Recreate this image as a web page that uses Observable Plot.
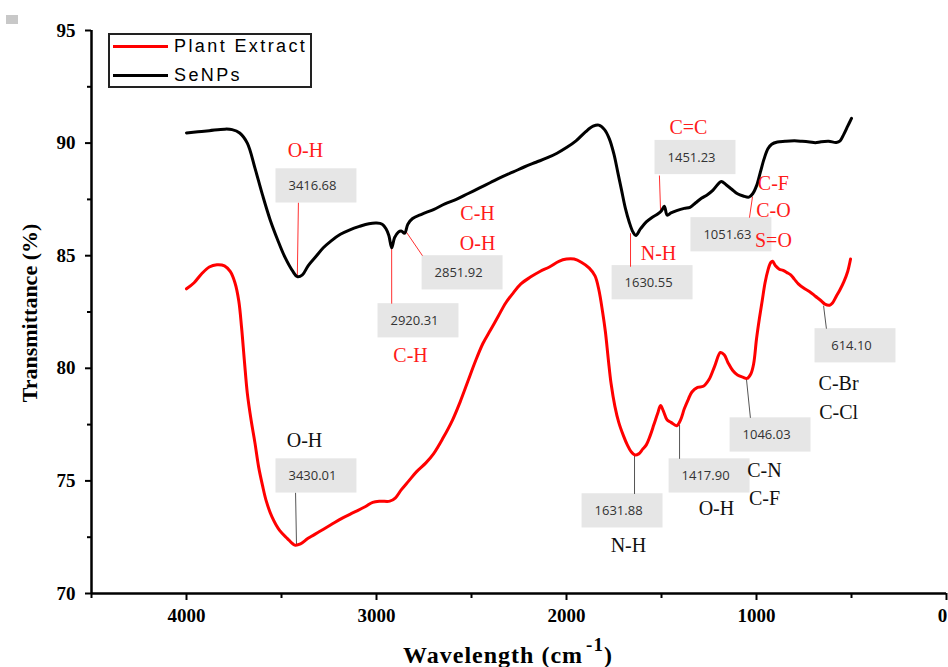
<!DOCTYPE html>
<html>
<head>
<meta charset="utf-8">
<script src="https://cdn.jsdelivr.net/npm/d3@7"></script>
<script src="https://cdn.jsdelivr.net/npm/@observablehq/plot@0.6"></script>
<style>
  html, body { margin: 0; padding: 0; background: #fff; }
  #wrap { position: relative; width: 948px; height: 667px; overflow: hidden; }
  #chart svg { display: block; }
  .legend { position: absolute; left: 108px; top: 33px; width: 200px; height: 51px; border: 2px solid #222; background: #fff; font-family: "Liberation Sans", Arial, sans-serif; font-size: 18px; letter-spacing: 2.4px; }
  .legend .row { position: absolute; left: 3px; height: 20px; display: flex; align-items: center; white-space: nowrap; }
  .legend .sw { width: 55px; height: 3px; margin-right: 6px; }
  .ytitle { position: absolute; left: 30px; top: 313px; transform: translate(-50%, -50%) rotate(-90deg); font-family: "Liberation Serif", serif; font-weight: bold; font-size: 22px; white-space: nowrap; }
  .xtitle { position: absolute; left: 508px; top: 653px; transform: translate(-50%, -50%); font-family: "Liberation Serif", serif; font-weight: bold; font-size: 24px; white-space: nowrap; letter-spacing: 1px; }
  .xtitle sup { font-size: 19px; position: relative; top: -3px; margin-left: 3px; }
  .corner { position: absolute; left: 6px; top: 15px; width: 12px; height: 9px; background: #c8c8c8; }
</style>
</head>
<body>
<div id="wrap">
  <div id="chart"></div>
  <div class="corner"></div>
  <div class="legend">
    <div class="row" style="top:1px"><div class="sw" style="background:#ff0000"></div><span>Plant Extract</span></div>
    <div class="row" style="top:30px"><div class="sw" style="background:#000"></div><span>SeNPs</span></div>
  </div>
  <div class="ytitle">Transmittance (%)</div>
  <div class="xtitle">Wavelength (cm<sup>-1</sup>)</div>
</div>
<script>
// ---- Data: SeNPs spectrum (wavenumber, transmittance) ----
const seWn = [4000,3940,3880,3800,3760,3720,3680,3640,3600,3560,3520,3480,3440,3417,3390,3360,3320,3280,3240,3190,3140,3090,3040,3000,2970,2950,2935,2920,2905,2885,2870,2852,2835,2810,2760,2700,2640,2580,2520,2460,2400,2340,2280,2220,2160,2100,2050,2000,1950,1900,1860,1830,1800,1775,1750,1730,1710,1690,1670,1650,1635,1610,1580,1550,1520,1500,1485,1470,1450,1420,1380,1350,1320,1290,1260,1230,1200,1185,1160,1130,1100,1070,1040,1020,1000,980,960,940,920,890,850,800,760,720,690,660,620,580,560,540,520,500];
const seT  = [90.45,90.5,90.55,90.62,90.6,90.45,90.0,88.9,87.7,86.6,85.7,84.9,84.3,84.07,84.15,84.55,84.95,85.35,85.65,85.95,86.15,86.3,86.42,86.45,86.4,86.2,85.9,85.35,85.8,86.05,86.1,86.0,86.4,86.65,86.85,87.05,87.3,87.5,87.75,88.0,88.25,88.5,88.72,88.95,89.15,89.35,89.55,89.8,90.1,90.5,90.75,90.8,90.6,90.2,89.5,88.7,87.9,87.1,86.5,86.05,85.9,86.2,86.5,86.7,86.85,87.0,87.2,86.8,86.9,87.0,87.1,87.15,87.35,87.55,87.7,87.9,88.2,88.3,88.15,87.95,87.75,87.65,87.6,87.75,88.1,88.7,89.3,89.75,89.95,90.05,90.08,90.1,90.08,90.05,90.02,90.06,90.08,90.03,90.1,90.4,90.75,91.1];

// ---- Data: Plant Extract spectrum ----
const plWn = [4000,3960,3920,3880,3840,3800,3770,3745,3725,3710,3695,3680,3660,3640,3620,3600,3580,3550,3510,3470,3430,3400,3360,3300,3240,3180,3120,3060,3020,2980,2930,2900,2870,2830,2790,2740,2700,2650,2600,2560,2520,2480,2440,2400,2360,2320,2280,2240,2190,2140,2090,2040,2000,1960,1920,1880,1850,1830,1810,1795,1780,1765,1745,1725,1700,1680,1660,1640,1620,1600,1580,1560,1540,1520,1505,1490,1470,1450,1420,1400,1380,1360,1340,1310,1280,1250,1220,1190,1170,1150,1125,1100,1070,1050,1030,1015,1000,985,970,955,940,925,915,900,880,860,840,820,800,780,750,720,690,660,640,615,600,580,560,540,520,505];
const plT  = [83.53,83.8,84.2,84.5,84.6,84.55,84.3,83.8,83.0,81.8,80.3,78.9,77.7,76.7,75.6,74.8,74.1,73.4,72.8,72.45,72.15,72.2,72.45,72.75,73.05,73.35,73.6,73.85,74.05,74.1,74.1,74.25,74.6,75.0,75.4,75.8,76.2,76.9,77.7,78.5,79.4,80.3,81.1,81.7,82.3,82.9,83.35,83.75,84.05,84.3,84.5,84.75,84.85,84.85,84.7,84.45,84.1,83.5,82.5,81.6,80.4,79.3,78.3,77.6,77.0,76.6,76.3,76.15,76.2,76.4,76.6,77.0,77.5,78.0,78.35,78.1,77.7,77.6,77.45,77.7,78.2,78.6,78.95,79.15,79.2,79.5,80.1,80.7,80.6,80.25,79.9,79.7,79.6,79.55,79.75,80.2,81.3,82.2,83.0,83.8,84.35,84.7,84.75,84.55,84.4,84.35,84.25,84.15,83.95,83.75,83.55,83.4,83.2,83.0,82.85,82.8,82.9,83.2,83.5,83.85,84.3,84.85];

// ---- Axis ticks ----
const xTicks = [4000, 3000, 2000, 1000, 0];
const xMinor = [4500, 3500, 2500, 1500, 500];
const yTicks = [70, 75, 80, 85, 90, 95];
const yMinor = [72.5, 77.5, 82.5, 87.5, 92.5];

// ---- Peak annotations (peak tip, leader end, box centre, in data units) ----
const seAnn = [
  {label: "3416.68", tipX: 3416.68, tipY: 84.1, endX: 3411, endY: 87.35, boxX: 3316, boxY: 88.1},
  {label: "2920.31", tipX: 2920.31, tipY: 85.35, endX: 2920, endY: 82.87, boxX: 2779, boxY: 82.11},
  {label: "2851.92", tipX: 2847, tipY: 86.1, endX: 2758, endY: 85.0, boxX: 2547, boxY: 84.24},
  {label: "1451.23", tipX: 1505, tipY: 87.0, endX: 1511, endY: 88.56, boxX: 1321, boxY: 89.36},
  {label: "1630.55", tipX: 1663, tipY: 86.0, endX: 1663, endY: 84.51, boxX: 1547, boxY: 83.8},
  {label: "1051.63", tipX: 1021, tipY: 87.62, endX: 1037, endY: 86.69, boxX: 1132, boxY: 85.93}
];
const plAnn = [
  {label: "3430.01", tipX: 3421, tipY: 72.16, endX: 3426, endY: 74.47, boxX: 3316, boxY: 75.22},
  {label: "1631.88", tipX: 1642, tipY: 76.11, endX: 1642, endY: 74.42, boxX: 1705, boxY: 73.67},
  {label: "1417.90", tipX: 1405, tipY: 77.49, endX: 1405, endY: 75.98, boxX: 1247, boxY: 75.22},
  {label: "1046.03", tipX: 1053, tipY: 79.53, endX: 1032, endY: 77.8, boxX: 926, boxY: 77.04},
  {label: "614.10", tipX: 647, tipY: 82.78, endX: 632, endY: 81.76, boxX: 479, boxY: 81.0}
];
// ---- Bond labels ----
const seBonds = [
  {text: "O-H", x: 3374, y: 89.67, anchor: "middle"},
  {text: "C-H", x: 2821, y: 80.56, anchor: "middle"},
  {text: "C-H", x: 2468, y: 86.87, anchor: "middle"},
  {text: "O-H", x: 2468, y: 85.53, anchor: "middle"},
  {text: "C=C", x: 1358, y: 90.69, anchor: "middle"},
  {text: "N-H", x: 1516, y: 85.09, anchor: "middle"},
  {text: "C-F", x: 911, y: 88.2, anchor: "start"},
  {text: "C-O", x: 911, y: 87.0, anchor: "start"},
  {text: "S=O", x: 911, y: 85.67, anchor: "start"}
];
const plBonds = [
  {text: "O-H", x: 3379, y: 76.78, anchor: "middle"},
  {text: "N-H", x: 1674, y: 72.11, anchor: "middle"},
  {text: "O-H", x: 1211, y: 73.76, anchor: "middle"},
  {text: "C-N", x: 958, y: 75.44, anchor: "start"},
  {text: "C-F", x: 958, y: 74.2, anchor: "start"},
  {text: "C-Br", x: 568, y: 79.31, anchor: "start"},
  {text: "C-Cl", x: 568, y: 78.02, anchor: "start"}
];

const se = seWn.map((w, i) => ({wn: w, t: seT[i]}));
const pl = plWn.map((w, i) => ({wn: w, t: plT[i]}));

const BW = 213, BH = 0.76;
const boxes = (ann) => Plot.rect(ann, {
  x1: d => d.boxX - BW, x2: d => d.boxX + BW,
  y1: d => d.boxY - BH, y2: d => d.boxY + BH,
  fill: "#e6e6e6"
});
const boxText = (ann) => Plot.text(ann, {
  x: "boxX", y: "boxY", text: "label", dx: -4,
  fontFamily: "'Open Sans', sans-serif", fontSize: 13, fill: "#333", fontWeight: "normal"
});
const bondText = (b, color) => Plot.text(b, {
  x: "x", y: "y", text: "text", textAnchor: d => d.anchor,
  fontFamily: "'Liberation Serif', serif", fontSize: 20, fill: color, fontWeight: "normal"
});

const serifBold = {fontFamily: "'Liberation Serif', serif", fontWeight: "bold", fontSize: 19};

const chart = Plot.plot({
  width: 948,
  height: 667,
  marginLeft: 91,
  marginRight: 2,
  marginTop: 30,
  marginBottom: 74,
  style: {fontFamily: "'Liberation Serif', serif", fontWeight: "bold", background: "#fff", overflow: "visible"},
  x: {domain: [4500, 0]},
  y: {domain: [70, 95]},
  marks: [
    boxes(seAnn),
    boxes(plAnn),
    Plot.link(seAnn, {x1: "tipX", y1: "tipY", x2: "endX", y2: "endY", stroke: "#ff3030", strokeWidth: 1}),
    Plot.link(plAnn, {x1: "tipX", y1: "tipY", x2: "endX", y2: "endY", stroke: "#555", strokeWidth: 1}),
    Plot.line(pl, {x: "wn", y: "t", stroke: "#ff0000", strokeWidth: 3, curve: "catmull-rom"}),
    Plot.line(se, {x: "wn", y: "t", stroke: "#000", strokeWidth: 3, curve: "catmull-rom"}),
    boxText(seAnn),
    boxText(plAnn),
    bondText(seBonds, "#ff1a1a"),
    bondText(plBonds, "#111"),
    Plot.axisX({ticks: xTicks, tickSize: 7, tickPadding: 8, strokeWidth: 2, label: null,
      tickFormat: d => d === 0 ? "" : String(d), ...serifBold}),
    Plot.axisX({ticks: [0], tickSize: 0, tickPadding: 15, dx: -4, label: null, tickFormat: d => String(d), ...serifBold}),
    Plot.axisX({ticks: xMinor, tickSize: 5, strokeWidth: 2, label: null, tickFormat: () => ""}),
    Plot.axisY({ticks: yTicks, tickSize: 6, tickPadding: 10, strokeWidth: 2, label: null, tickFormat: d => String(d), ...serifBold}),
    Plot.axisY({ticks: yMinor, tickSize: 4, strokeWidth: 2, label: null, tickFormat: () => ""}),
    Plot.ruleY([70], {stroke: "#000", strokeWidth: 2.5}),
    Plot.ruleX([4500], {stroke: "#000", strokeWidth: 2.5})
  ]
});
document.getElementById("chart").appendChild(chart);
</script>
</body>
</html>
